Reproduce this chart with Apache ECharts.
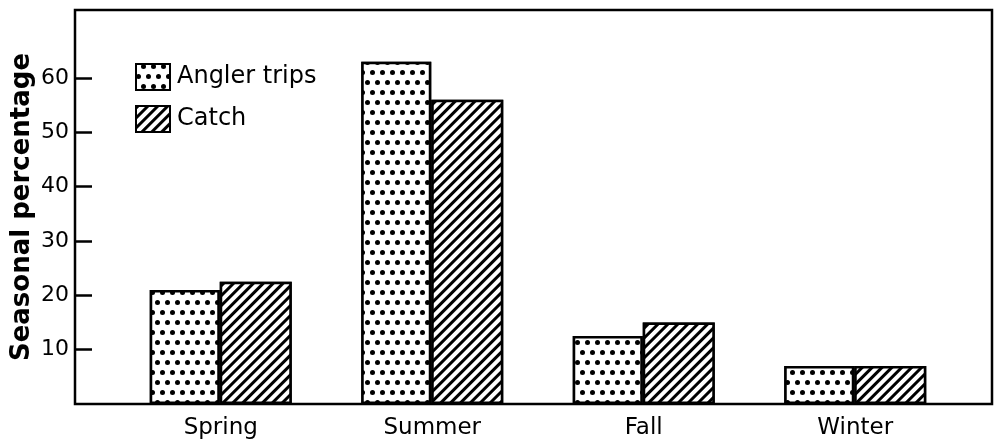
<!DOCTYPE html>
<html lang="en">
<head>
    <meta charset="utf-8">
    <title>Seasonal percentage</title>
    <script src="https://cdn.jsdelivr.net/npm/echarts@6/dist/echarts.min.js"></script>
    <style>
        html, body { margin: 0; padding: 0; background: #fff; }
        #main { width: 998px; height: 447px; }
    </style>
</head>
<body>
<div id="main"></div>
<script>
    var seasons = ['Spring', 'Summer', 'Fall', 'Winter'];
    var anglerTrips = [21, 63, 12.5, 7];
    var catchPct = [22.5, 56, 15, 7];
    var yTicks = [10, 20, 30, 40, 50, 60];

    var font = 'DejaVu Sans';

    // stippled fill (staggered dots) and diagonal hatch
    var dots = {
        symbol: 'circle',
        color: '#000',
        backgroundColor: '#fff',
        symbolSize: 1,
        dashArrayX: [[4.4, 4.4], [0, 4.4, 4.4, 0]],
        dashArrayY: [4.4, 4.4]
    };
    var hatch = {
        symbol: 'rect',
        color: '#000',
        backgroundColor: '#fff',
        symbolSize: 1,
        dashArrayX: [1, 0],
        dashArrayY: [2.6, 3.4],
        rotation: -Math.PI / 4
    };

    var myChart = echarts.init(document.getElementById('main'));
    var option = {
        animation: false,
        legend: {
            orient: 'vertical',
            left: 130,
            top: 58,
            itemWidth: 34,
            itemHeight: 26,
            itemGap: 14,
            icon: 'rect',
            textStyle: { fontFamily: font, fontSize: 24, color: '#000', padding: [0, 0, 0, 2] },
            data: ['Angler trips', 'Catch']
        },
        grid: [
            { left: 75, right: 6, top: 10, bottom: 43, outerBoundsMode: 'none', show: true, borderColor: '#000', borderWidth: 2.5, backgroundColor: 'transparent' },
            { left: 115, right: 37, top: 10, bottom: 43, outerBoundsMode: 'none' }
        ],
        xAxis: [
            { type: 'value', gridIndex: 0, show: false, min: 0, max: 1 },
            {
                type: 'category',
                gridIndex: 1,
                data: seasons,
                axisLine: { show: false },
                axisTick: { show: false },
                axisLabel: { color: '#000', fontFamily: font, fontSize: 23, margin: 13 }
            }
        ],
        yAxis: [
            {
                type: 'value',
                gridIndex: 0,
                min: 0,
                max: 72.5,
                name: 'Seasonal percentage',
                nameLocation: 'middle',
                nameGap: 40,
                nameMoveOverlap: false,
                nameTextStyle: { color: '#000', fontFamily: font, fontSize: 26, fontWeight: 'bold' },
                axisLine: { show: false },
                splitLine: { show: false },
                axisTick: { show: true, inside: true, length: 17, customValues: yTicks, lineStyle: { color: '#000', width: 2.5 } },
                axisLabel: { customValues: yTicks, color: '#000', fontFamily: font, fontSize: 22, margin: 6 }
            },
            { type: 'value', gridIndex: 1, min: 0, max: 72.5, show: false }
        ],
        series: [
            {
                name: 'Angler trips',
                type: 'bar',
                xAxisIndex: 1,
                yAxisIndex: 1,
                data: anglerTrips,
                barWidth: 70,
                barGap: '0%',
                itemStyle: { color: '#fff', borderColor: '#000', borderWidth: 2.5, decal: dots }
            },
            {
                name: 'Catch',
                type: 'bar',
                xAxisIndex: 1,
                yAxisIndex: 1,
                data: catchPct,
                barWidth: 72,
                barGap: '0%',
                itemStyle: { color: '#fff', borderColor: '#000', borderWidth: 2.5, decal: hatch }
            }
        ]
    };
    myChart.setOption(option);
</script>
</body>
</html>
